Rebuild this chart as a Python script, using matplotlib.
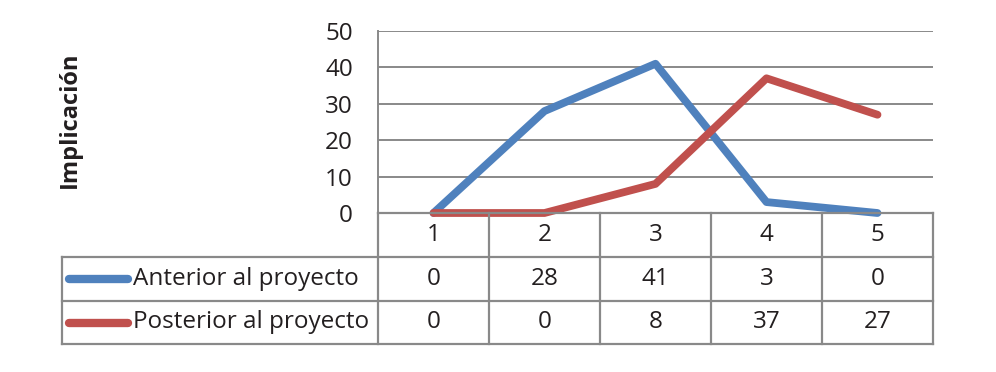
import matplotlib
matplotlib.use("Agg")
import matplotlib.pyplot as plt
from matplotlib.lines import Line2D

plt.rcParams['font.family'] = ['Open Sans', 'DejaVu Sans']

categorias = [1, 2, 3, 4, 5]
anterior = [0, 28, 41, 3, 0]
posterior = [0, 0, 8, 37, 27]
series = ["Anterior al proyecto", "Posterior al proyecto"]
colores = ["#4F81BD", "#C0504D"]
yticks = [0, 10, 20, 30, 40, 50]

W, H = 996, 372
fig = plt.figure(figsize=(W / 100, H / 100), dpi=100)

# pixel helpers (figure coords)
def fx(px):
    return px / W

def fy(py):
    return 1 - py / H

x0, x1 = 378, 933
ytop, ybot = 31, 213
ax = fig.add_axes([fx(x0), fy(ybot), fx(x1) - fx(x0), fy(ytop) - fy(ybot)])
ax.set_xlim(0.5, 5.5)
ax.set_ylim(0, 50)
ax.set_yticks(yticks)
ax.set_xticks([])
ax.tick_params(axis='y', length=0, pad=18, labelsize=17.5, labelcolor="#231F20")
ax.grid(axis='y', color="#898989", linewidth=1.4)
ax.set_axisbelow(True)
for s in ['top', 'right', 'bottom']:
    ax.spines[s].set_visible(False)
ax.spines['left'].set_color("#898989")
ax.spines['left'].set_linewidth(1.4)

for vals, c in zip([anterior, posterior], colores):
    ax.plot(categorias, vals, color=c, linewidth=5.6, solid_capstyle='round',
            solid_joinstyle='round', clip_on=False, zorder=3)

fig.text(fx(70), fy(120), "Implicación", rotation=90, ha='center', va='center',
         fontsize=17, fontweight='bold', color="#231F20")

# table
gris = "#898989"
lw = 1.6
tl = 62
rows = [213, 257, 301, 344]
colw = (x1 - x0) / len(categorias)
cols = [x0 + i * colw for i in range(len(categorias) + 1)]

def hline(xa, xb, y):
    fig.add_artist(Line2D([fx(xa), fx(xb)], [fy(y), fy(y)], color=gris, lw=lw,
                          transform=fig.transFigure))

def vline(x, ya, yb):
    fig.add_artist(Line2D([fx(x), fx(x)], [fy(ya), fy(yb)], color=gris, lw=lw,
                          transform=fig.transFigure))

hline(x0, x1, rows[0])
for r in rows[1:]:
    hline(tl, x1, r)
vline(tl, rows[1], rows[3])
for c in cols:
    vline(c, rows[0], rows[3])

fs = 17.5
for i, cat in enumerate(categorias):
    cx = (cols[i] + cols[i + 1]) / 2
    fig.text(fx(cx), fy((rows[0] + rows[1]) / 2), str(cat), ha='center', va='center',
             fontsize=fs, color="#231F20")
    for j, vals in enumerate([anterior, posterior]):
        fig.text(fx(cx), fy((rows[j + 1] + rows[j + 2]) / 2), str(vals[i]),
                 ha='center', va='center', fontsize=fs, color="#231F20")

for j, (nombre, c) in enumerate(zip(series, colores)):
    cy = (rows[j + 1] + rows[j + 2]) / 2
    fig.add_artist(Line2D([fx(69), fx(128)], [fy(cy), fy(cy)], color=c, lw=6,
                          solid_capstyle='round', transform=fig.transFigure))
    fig.text(fx(133), fy(cy), nombre, ha='left', va='center', fontsize=fs,
             color="#231F20")

fig.savefig("out.png", dpi=100)
